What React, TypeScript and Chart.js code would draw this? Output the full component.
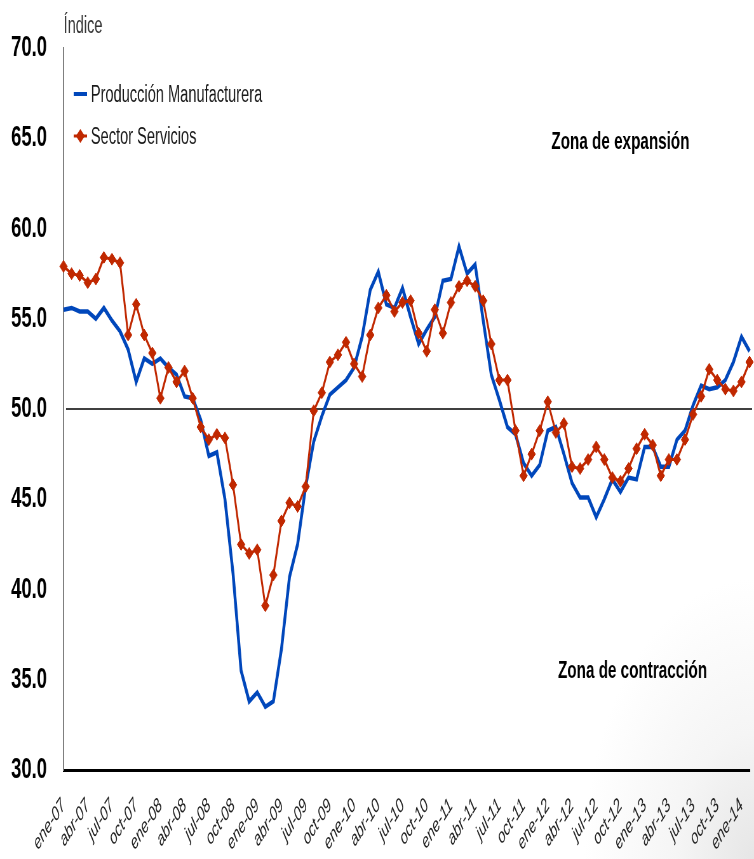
import React, { useEffect, useRef } from 'react';
import { Chart, registerables } from 'chart.js';

Chart.register(...registerables);

// ---------- data ----------
const monthNames = ['ene', 'feb', 'mar', 'abr', 'may', 'jun', 'jul', 'ago', 'sep', 'oct', 'nov', 'dic'];
const yearSuffixes = ['07', '08', '09', '10', '11', '12', '13', '14'];
const categories: string[] = yearSuffixes
  .flatMap((y) => monthNames.map((m) => `${m}-${y}`))
  .slice(0, 86); // ene-07 .. feb-14

const tickLabels = [
  'ene-07', 'abr-07', 'jul-07', 'oct-07',
  'ene-08', 'abr-08', 'jul-08', 'oct-08',
  'ene-09', 'abr-09', 'jul-09', 'oct-09',
  'ene-10', 'abr-10', 'jul-10', 'oct-10',
  'ene-11', 'abr-11', 'jul-11', 'oct-11',
  'ene-12', 'abr-12', 'jul-12', 'oct-12',
  'ene-13', 'abr-13', 'jul-13', 'oct-13',
  'ene-14',
];

const produccionManufacturera = [
  55.5, 55.6, 55.4, 55.4, 55.0, 55.6, 54.9, 54.3, 53.3, 51.5, 52.8, 52.5,
  52.8, 52.3, 51.9, 50.7, 50.6, 49.4, 47.4, 47.6, 45.0, 40.9, 35.5, 33.8,
  34.3, 33.5, 33.8, 36.7, 40.7, 42.5, 45.7, 48.2, 49.6, 50.8, 51.2, 51.6,
  52.3, 54.0, 56.6, 57.6, 55.8, 55.6, 56.7, 55.1, 53.6, 54.4, 55.1, 57.1,
  57.2, 59.0, 57.5, 58.0, 54.9, 51.9, 50.5, 49.0, 48.6, 47.0, 46.3, 46.9,
  48.8, 49.0, 47.5, 45.9, 45.1, 45.1, 44.0, 45.0, 46.1, 45.4, 46.2, 46.1,
  47.9, 47.9, 46.8, 46.8, 48.3, 48.8, 50.2, 51.3, 51.1, 51.2, 51.6, 52.6,
  54.0, 53.2,
];

const sectorServicios = [
  57.9, 57.5, 57.4, 57.0, 57.2, 58.4, 58.3, 58.1, 54.1, 55.8, 54.1, 53.1,
  50.6, 52.3, 51.5, 52.1, 50.6, 49.0, 48.3, 48.6, 48.4, 45.8, 42.5, 42.0,
  42.2, 39.1, 40.8, 43.8, 44.8, 44.6, 45.7, 49.9, 50.9, 52.6, 53.0, 53.7,
  52.5, 51.8, 54.1, 55.6, 56.3, 55.4, 55.9, 56.0, 54.2, 53.2, 55.5, 54.2,
  55.9, 56.8, 57.1, 56.8, 56.0, 53.6, 51.6, 51.6, 48.8, 46.3, 47.5, 48.8,
  50.4, 48.7, 49.2, 46.8, 46.7, 47.2, 47.9, 47.2, 46.2, 46.0, 46.7, 47.8,
  48.6, 48.0, 46.3, 47.2, 47.2, 48.3, 49.7, 50.7, 52.2, 51.6, 51.1, 51.0,
  51.5, 52.6,
];

const seriesNames = ['Producción Manufacturera', 'Sector Servicios'];
const seriesColors = ['#0047BB', '#C02800'];
const referenceValue = 50;
const yMin = 30;
const yMax = 70;
const yStep = 5;
const axisTitle = 'Índice';
const zoneLabels = ['Zona de expansión', 'Zona de contracción'];
const zoneLabelX = [69, 70.5]; // category index of label centre
const zoneLabelY = [64.39, 35.08]; // value at text baseline

// ---------- layout ----------
const DISPLAY_W = 754;
const DISPLAY_H = 859;
const CANVAS_W = 1187; // drawn wider, then squeezed horizontally
const FONT = "'Liberation Sans', Arial, sans-serif";

const overlayPlugin = {
  id: 'overlay',
  beforeDatasetsDraw(chart: any) {
    const { ctx, chartArea, scales } = chart;
    const py = scales.y.getPixelForValue(referenceValue);
    ctx.save();
    ctx.strokeStyle = '#000';
    ctx.lineWidth = 1.6;
    ctx.beginPath();
    ctx.moveTo(chartArea.left + 4, py);
    ctx.lineTo(chartArea.right + 4, py);
    ctx.stroke();
    ctx.restore();
  },
  afterDraw(chart: any) {
    const { ctx, chartArea, scales } = chart;
    const L = chartArea.left;
    ctx.save();
    // axis title
    ctx.fillStyle = '#333';
    ctx.font = `23px ${FONT}`;
    ctx.textAlign = 'left';
    ctx.textBaseline = 'alphabetic';
    ctx.fillText(axisTitle, L, 33);

    // legend
    const legendY = [94, 136];
    ctx.font = `23px ${FONT}`;
    ctx.fillStyle = '#1a1a1a';
    // item 1: line
    ctx.strokeStyle = seriesColors[0];
    ctx.lineWidth = 4;
    ctx.beginPath();
    ctx.moveTo(L + 16, legendY[0]);
    ctx.lineTo(L + 37, legendY[0]);
    ctx.stroke();
    ctx.fillText(seriesNames[0], L + 43, legendY[0] + 8);
    // item 2: line + diamond
    ctx.strokeStyle = seriesColors[1];
    ctx.lineWidth = 3;
    ctx.beginPath();
    ctx.moveTo(L + 16, legendY[1]);
    ctx.lineTo(L + 37, legendY[1]);
    ctx.stroke();
    const cx = L + 26.5;
    const r = 7;
    ctx.fillStyle = seriesColors[1];
    ctx.beginPath();
    ctx.moveTo(cx - r, legendY[1]);
    ctx.lineTo(cx, legendY[1] - r);
    ctx.lineTo(cx + r, legendY[1]);
    ctx.lineTo(cx, legendY[1] + r);
    ctx.closePath();
    ctx.fill();
    ctx.fillStyle = '#1a1a1a';
    ctx.fillText(seriesNames[1], L + 43, legendY[1] + 8);

    // zone labels
    ctx.font = `bold 24px ${FONT}`;
    ctx.fillStyle = '#000';
    ctx.textAlign = 'center';
    zoneLabels.forEach((t, i) => {
      ctx.fillText(t, scales.x.getPixelForValue(zoneLabelX[i]), scales.y.getPixelForValue(zoneLabelY[i]));
    });
    ctx.restore();
  },
};

export default function App() {
  const canvasRef = useRef<HTMLCanvasElement | null>(null);

  useEffect(() => {
    if (!canvasRef.current) return;
    const chart = new Chart(canvasRef.current, {
      type: 'line',
      data: {
        labels: categories,
        datasets: [
          {
            label: seriesNames[0],
            data: produccionManufacturera,
            borderColor: seriesColors[0],
            backgroundColor: seriesColors[0],
            borderWidth: 4.5,
            pointRadius: 0,
            tension: 0,
            fill: false,
            order: 2,
          },
          {
            label: seriesNames[1],
            data: sectorServicios,
            borderColor: seriesColors[1],
            backgroundColor: seriesColors[1],
            borderWidth: 3,
            pointStyle: 'rectRot',
            pointRadius: 6,
            pointBorderWidth: 1,
            pointBackgroundColor: seriesColors[1],
            pointBorderColor: seriesColors[1],
            tension: 0,
            fill: false,
            order: 1,
          },
        ],
      },
      options: {
        responsive: false,
        maintainAspectRatio: false,
        devicePixelRatio: 1,
        animation: false,
        layout: { padding: { top: 48, right: 2, bottom: 0, left: 0 } },
        plugins: {
          legend: { display: false },
          tooltip: { enabled: false },
          title: { display: false },
        },
        scales: {
          x: {
            type: 'category',
            offset: false,
            grid: { display: false, drawTicks: false },
            border: { display: true, color: '#000', width: 3 },
            ticks: {
              autoSkip: false,
              minRotation: 45,
              maxRotation: 45,
              padding: 24,
              color: '#222',
              font: { family: FONT, size: 20, style: 'italic' },
              callback: (_v: any, idx: number) =>
                tickLabels.includes(categories[idx]) ? categories[idx] : null,
            },
            afterFit: (s: any) => {
              s.height = 89;
              s.paddingLeft = 0;
              s.paddingRight = 0;
            },
          },
          y: {
            min: yMin,
            max: yMax,
            grid: { display: false, drawTicks: false },
            border: { display: true, color: '#808080', width: 2 },
            ticks: {
              stepSize: yStep,
              padding: 26,
              color: '#000',
              font: { family: FONT, size: 29, weight: 'bold' },
              callback: (v: any) => Number(v).toFixed(1),
            },
            afterFit: (s: any) => {
              s.width = 100;
              s.paddingTop = 0;
              s.paddingBottom = 0;
            },
          },
        },
      },
      plugins: [overlayPlugin],
    } as any);
    return () => chart.destroy();
  }, []);

  return (
    <div
      style={{
        position: 'absolute',
        left: 0,
        top: 0,
        width: DISPLAY_W,
        height: DISPLAY_H,
        background:
          'radial-gradient(ellipse 170px 280px at 100% 100%, #e6e6e6 0%, #f5f5f5 45%, #ffffff 100%)',
      }}
    >
      <canvas
        ref={canvasRef}
        width={CANVAS_W}
        height={DISPLAY_H}
        style={{ display: 'block', width: `${DISPLAY_W}px`, height: `${DISPLAY_H}px` }}
      />
    </div>
  );
}
